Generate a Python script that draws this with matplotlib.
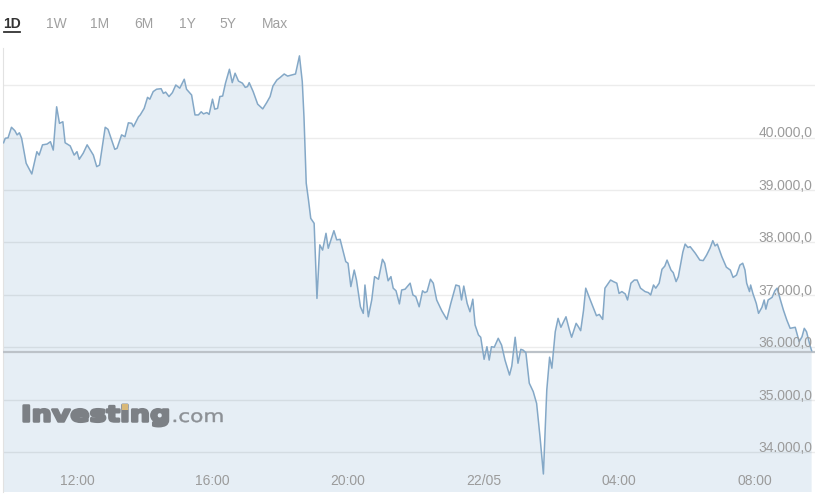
import numpy as np
import pandas as pd
import matplotlib
matplotlib.use("Agg")
import matplotlib.pyplot as plt
import matplotlib.dates as mdates
import matplotlib.transforms as mtransforms
from matplotlib.patches import Rectangle, PathPatch
from matplotlib.lines import Line2D
from matplotlib.textpath import TextPath
from matplotlib.font_manager import FontProperties

# ====================================
# data: 1D price, 21/05 -> 22/05 (clock times)
times = ["09:50", "09:53", "09:58", "10:04", "10:10", "10:14", "10:18", "10:22", "10:30", "10:40",
         "10:49", "10:53", "10:59", "11:07", "11:13", "11:18", "11:24", "11:29", "11:35", "11:39",
         "11:48", "11:55", "12:00", "12:04", "12:11", "12:18", "12:29", "12:35", "12:40", "12:50",
         "12:55", "13:07", "13:11", "13:19", "13:25", "13:31", "13:37", "13:40", "13:49", "13:52",
         "13:59", "14:05", "14:09", "14:15", "14:21", "14:29", "14:33", "14:37", "14:43", "14:49",
         "14:55", "15:02", "15:10", "15:14", "15:23", "15:29", "15:35", "15:40", "15:44", "15:50",
         "15:54", "16:00", "16:04", "16:09", "16:13", "16:18", "16:23", "16:30", "16:35", "16:40",
         "16:46", "16:53", "16:58", "17:02", "17:05", "17:12", "17:20", "17:29", "17:36", "17:42",
         "17:47", "17:54", "18:00", "18:07", "18:13", "18:20", "18:27", "18:34", "18:39", "18:42",
         "18:44", "18:46", "18:50", "18:54", "19:00", "19:05", "19:10", "19:15", "19:21", "19:25",
         "19:35", "19:40", "19:46", "19:56", "20:00", "20:05", "20:11", "20:15", "20:22", "20:27",
         "20:30", "20:36", "20:42", "20:47", "20:54", "21:01", "21:05", "21:11", "21:16", "21:20",
         "21:25", "21:31", "21:35", "21:41", "21:50", "21:55", "22:00", "22:06", "22:12", "22:16",
         "22:20", "22:26", "22:31", "22:37", "22:46", "22:55", "23:02", "23:11", "23:17", "23:21",
         "23:25", "23:31", "23:36", "23:41", "23:45", "23:51", "23:55", "00:01", "00:06", "00:10",
         "00:14", "00:19", "00:26", "00:32", "00:38", "00:46", "00:50", "00:56", "01:01", "01:06",
         "01:10", "01:15", "01:21", "01:28", "01:34", "01:40", "01:46", "01:52", "01:57", "02:01",
         "02:07", "02:12", "02:17", "02:26", "02:32", "02:36", "02:44", "02:48", "02:52", "02:57",
         "03:01", "03:09", "03:16", "03:20", "03:25", "03:31", "03:35", "03:41", "03:45", "03:50",
         "03:56", "04:00", "04:05", "04:11", "04:15", "04:21", "04:27", "04:32", "04:38", "04:46",
         "04:52", "04:56", "05:01", "05:05", "05:11", "05:16", "05:21", "05:25", "05:32", "05:36",
         "05:41", "05:45", "05:53", "05:57", "06:02", "06:06", "06:15", "06:23", "06:29", "06:35",
         "06:41", "06:46", "06:50", "06:54", "07:02", "07:10", "07:17", "07:22", "07:28", "07:34",
         "07:39", "07:43", "07:46", "07:51", "07:53", "07:57", "08:03", "08:07", "08:13", "08:17",
         "08:20", "08:24", "08:31", "08:36", "08:40", "08:45", "08:51", "08:57", "09:03", "09:12",
         "09:19", "09:24", "09:28", "09:32", "09:38", "09:41"]

prices = [39900, 39985, 39995, 40195, 40130, 40050, 40090, 39985, 39510, 39305,
          39730, 39665, 39860, 39875, 39920, 39760, 40585, 40270, 40300, 39900,
          39840, 39665, 39730, 39585, 39700, 39860, 39665, 39445, 39475, 40195,
          40155, 39775, 39795, 40050, 40015, 40280, 40270, 40205, 40395, 40430,
          40555, 40765, 40730, 40875, 40920, 40930, 40840, 40865, 40780, 40855,
          41000, 40940, 41110, 40920, 40810, 40430, 40430, 40490, 40450, 40475,
          40440, 40730, 40540, 40555, 40780, 40790, 41035, 41300, 41045, 41225,
          41075, 41035, 40955, 40970, 41045, 40875, 40635, 40545, 40665, 40780,
          40980, 41095, 41145, 41210, 41170, 41190, 41210, 41555, 41065, 40395,
          39760, 39130, 38810, 38460, 38365, 36935, 37955, 37855, 38175, 37890,
          38225, 38050, 38060, 37635, 37605, 37160, 37475, 37285, 36775, 36650,
          37190, 36585, 36905, 37350, 37300, 37680, 37605, 37270, 37350, 37130,
          37080, 36830, 37095, 37110, 37225, 37000, 36970, 36775, 37080, 37045,
          37065, 37300, 37225, 36905, 36700, 36535, 36840, 37190, 37170, 36905,
          37170, 36840, 36680, 36920, 36430, 36240, 36195, 35775, 36015, 35760,
          36015, 36005, 36175, 36045, 35760, 35475, 35645, 36195, 35700, 35965,
          35950, 35900, 35320, 35160, 34935, 34300, 33590, 35190, 35815, 35605,
          36300, 36555, 36385, 36585, 36335, 36195, 36460, 36395, 36320, 36700,
          37130, 36905, 36715, 36605, 36630, 36535, 37130, 37225, 37285, 37255,
          37225, 37030, 37065, 37020, 36905, 37225, 37285, 37285, 37130, 37065,
          37045, 37000, 37190, 37130, 37225, 37490, 37550, 37665, 37475, 37425,
          37255, 37350, 37820, 37970, 37905, 37920, 37795, 37665, 37655, 37760,
          37890, 38035, 37935, 37970, 37730, 37530, 37475, 37335, 37380, 37570,
          37605, 37475, 37225, 37065, 37190, 37030, 36840, 36650, 36765, 36905,
          36730, 36905, 36955, 37080, 37130, 36935, 36715, 36525, 36365, 36385,
          36110, 36205, 36365, 36300, 36045, 35940]

prev_close = 35915
grid_values = [34000, 35000, 36000, 37000, 38000, 39000, 40000, 41000]
label_values = [34000, 35000, 36000, 37000, 38000, 39000, 40000]
x_tick_times = ["2021-05-21 12:00", "2021-05-21 16:00", "2021-05-21 20:00",
                "2021-05-22 00:00", "2021-05-22 04:00", "2021-05-22 08:00"]
x_tick_labels = ["12:00", "16:00", "20:00", "22/05", "04:00", "08:00"]
tabs = ["1D", "1W", "1M", "6M", "1Y", "5Y", "Max"]

# clock times -> timestamps (day rolls over after midnight)
day0 = pd.Timestamp("2021-05-21")
stamps = []
d = 0
prev = -1
for t in times:
    hh, mm = map(int, t.split(":"))
    if hh * 60 + mm < prev:
        d += 1
    prev = hh * 60 + mm
    stamps.append(day0 + pd.Timedelta(days=d, hours=hh, minutes=mm))
xnum = mdates.date2num(pd.to_datetime(stamps).to_pydatetime())

# ====================================
W, H = 819, 496
fig = plt.figure(figsize=(W / 100, H / 100), dpi=100)
ax = fig.add_axes([3 / W, 4 / H, 812 / W, 444 / H])

line_col = "#84a8c7"
fill_col = "#e6eef5"

ax.fill_between(xnum, prices, 30000, color=fill_col, lw=0, zorder=1)
ax.plot(xnum, prices, color=line_col, lw=1.1, zorder=4)

for v in grid_values:
    ax.axhline(v, color="black", alpha=0.075, lw=1, zorder=2)
ax.axhline(prev_close, color="#bcc2c8", lw=1.6, zorder=3)

ax.set_xlim(mdates.date2num(pd.Timestamp("2021-05-21 09:49").to_pydatetime()),
            mdates.date2num(pd.Timestamp("2021-05-22 09:47").to_pydatetime()))
ax.set_ylim(33247, 41705)

ax.set_xticks([])
ax.set_yticks([])
for s in ["top", "right", "bottom"]:
    ax.spines[s].set_visible(False)
ax.spines["left"].set_color("#e2e2e2")

lab_font = dict(family=["Liberation Sans", "DejaVu Sans"], size=10, color="#9b9b9b")

# y labels sit just above their gridlines, inside the plot
trans_y = mtransforms.blended_transform_factory(ax.transAxes, ax.transData)
for v in label_values:
    lbl = "{:,.1f}".format(v).replace(",", "X").replace(".", ",").replace("X", ".")
    ax.annotate(lbl, xy=(1, v), xycoords=trans_y, xytext=(-2, 3),
                textcoords="offset points", ha="right", va="center", zorder=5, **lab_font)

# x labels inside the bottom of the plot
trans_x = mtransforms.blended_transform_factory(ax.transData, ax.transAxes)
for t, lbl in zip(pd.to_datetime(x_tick_times), x_tick_labels):
    ax.annotate(lbl, xy=(mdates.date2num(t.to_pydatetime()), 0), xycoords=trans_x, xytext=(0, 8),
                textcoords="offset points", ha="center", va="center", zorder=5, **lab_font)

# range tabs
tab_x = [12, 56, 100, 144, 187, 228, 275]
for tx, lbl in zip(tab_x, tabs):
    if lbl == "1D":
        fig.text(tx / W, 1 - 24 / H, lbl, ha="center", va="center", fontsize=10,
                 family=["Liberation Sans", "DejaVu Sans"], weight="bold", color="#333333")
    else:
        fig.text(tx / W, 1 - 24 / H, lbl, ha="center", va="center", fontsize=10,
                 family=["Liberation Sans", "DejaVu Sans"], color="#a0a0a0")
fig.add_artist(Line2D([4 / W, 20 / W], [1 - 31.5 / H, 1 - 31.5 / H], color="#333333", lw=1.3))


# watermark logo: text stretched into its box (pixel coords, y from bottom)
def logo_text(s, weight, x0, x1, baseline, ref_h, ref_frac, color, stroke):
    tp = TextPath((0, 0), s, size=1, prop=FontProperties(family="DejaVu Sans", weight=weight))
    vx = tp.vertices[:, 0]
    sx = (x1 - x0) / (vx.max() - vx.min())
    sy = ref_h / ref_frac
    tr = mtransforms.Affine2D().translate(-vx.min(), 0).scale(sx, sy).translate(x0, H - baseline)
    fig.add_artist(PathPatch(tp, transform=tr, facecolor=color, edgecolor=color,
                             lw=stroke, joinstyle="round", zorder=6))


logo_text("Investing", "bold", 21, 168, 421.5, 16, 0.729, "#7c8085", 1.8)
logo_text(".com", "normal", 171.5, 222.5, 422, 9.5, 0.547, "#8c9095", 0.3)
fig.add_artist(Rectangle((122 / W, 1 - 410 / H), 6 / W, 6 / H, color="#d8b878", lw=0, zorder=7))

fig.savefig("out.png", dpi=100, facecolor="white")
